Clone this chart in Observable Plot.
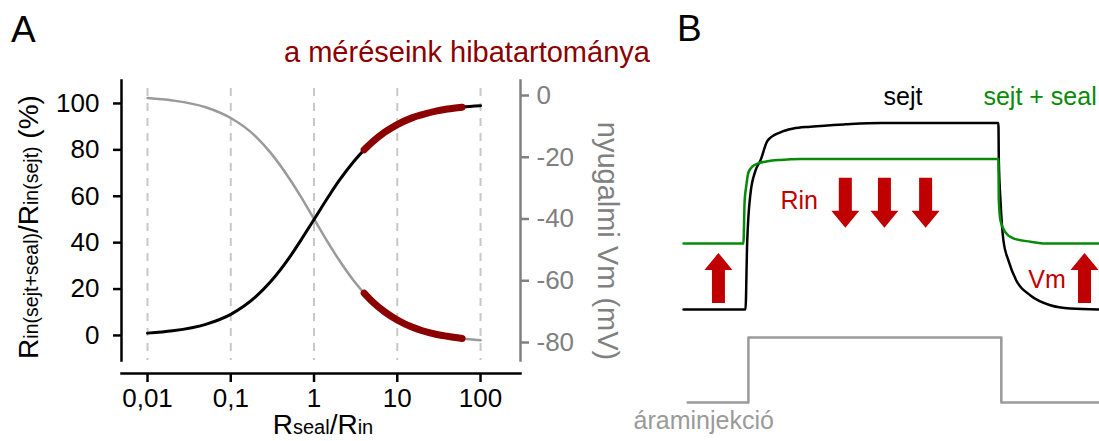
<!DOCTYPE html>
<html>
<head>
<meta charset="utf-8">
<script src="https://cdn.jsdelivr.net/npm/d3@7"></script>
<script src="https://cdn.jsdelivr.net/npm/@observablehq/plot@0.6"></script>
<style>
  body { margin: 0; background: #fff; font-family: "Liberation Sans", Arial, sans-serif; }
  #fig { position: relative; width: 1099px; height: 441px; overflow: hidden; background: #fff; }
  #fig svg { position: absolute; top: 0; }
</style>
</head>
<body>
<div id="fig"></div>
<script>
// ---- Panel A: Rin(cell+seal)/Rin(cell) and resting Vm against Rseal/Rin ----
const ratio      = [0.01, 0.02, 0.05, 0.1, 0.2, 0.3, 0.5, 0.7, 1, 1.5, 2, 3, 4, 5, 7, 10, 15, 20, 30, 40, 60, 100];
const rinPercent = [1.0, 2.0, 4.8, 9.1, 16.7, 23.1, 33.3, 41.2, 50, 60, 66.7, 75, 80, 83.3, 87.5, 90.9, 93.8, 95.2, 96.8, 97.6, 98.4, 99.0];
const restVm     = [-0.8, -1.6, -3.8, -7.3, -13.3, -18.5, -26.7, -32.9, -40, -48, -53.3, -60, -64, -66.7, -70, -72.7, -75, -76.2, -77.4, -78, -78.7, -79.3];
const errorRange = [4, 60];           // Rseal/Rin range of our recordings
const xTicks      = [0.01, 0.1, 1, 10, 100];
const xTickLabels = ["0,01", "0,1", "1", "10", "100"];
const pctTicks    = [0, 20, 40, 60, 80, 100];
const vmTicks     = [0, -20, -40, -60, -80];

// ---- Panel B: schematic responses to a current step (ms, mV) ----
const cellT = [0, 14.9, 15.3, 16.1, 17.3, 18.5, 20.2, 23.3, 26.4, 30.5, 38.9, 47.4, 75.7, 75.8, 76.2, 76.9, 78.1, 80.0, 83.4, 88.2, 93.0, 100];
const cellV = [-70, -70, -55.9, -45.2, -40.3, -38.1, -33.9, -32.1, -31.3, -30.9, -30.4, -30.1, -30.1, -38.1, -46.7, -55.2, -59.5, -63.8, -67.0, -69.1, -69.8, -70];
const sealT = [0, 14.4, 14.7, 15.1, 15.6, 16.6, 17.8, 20.2, 23.3, 28.1, 75.7, 75.8, 76.2, 77.4, 79.3, 83.4, 87.0, 100];
const sealV = [-55.9, -55.9, -46.7, -43.5, -40.7, -39.4, -38.8, -38.3, -38.0, -37.8, -37.8, -46.7, -51.0, -53.5, -54.8, -55.5, -55.9, -55.9];
const stepT = [1, 15.6, 15.6, 76.4, 76.4, 100];
const stepI = [0, 0, 1, 1, 0, 0];
const rinArrowT = [38.9, 48.3, 58.2];
const vmArrowT  = [8.4, 96.4];

const FONT = "Liberation Sans, Arial, sans-serif";
const DARK_RED = "#8b0000";
const RED = "#c00000";
const GREEN = "#078a07";
const AXIS_GRAY = "#808080";
const CURVE_GRAY = "#9a9a9a";

const fig = document.getElementById("fig");
const rows = ratio.map((r, i) => ({r, pct: rinPercent[i], vm: restVm[i]}));
const inError = d => d.r >= errorRange[0] && d.r <= errorRange[1];

const frameA = {
  width: 660, height: 441,
  marginLeft: 121, marginRight: 140, marginTop: 80, marginBottom: 68,
  style: {background: "transparent", fontFamily: FONT, overflow: "visible"}
};
const xLog = {type: "log", domain: [0.00487, 302]};

// Resting potential (right axis) — drawn underneath
const vmPlot = Plot.plot({
  ...frameA,
  x: {...xLog, axis: null},
  y: {domain: [-85.83, 4.86], insetBottom: 13, axis: null},
  marks: [
    Plot.ruleX(xTicks, {stroke: "#c8c8c8", strokeWidth: 2, strokeDasharray: "8,7", insetTop: 8, insetBottom: 13}),
    Plot.frame({anchor: "right", insetBottom: 13, stroke: AXIS_GRAY, strokeWidth: 2.5}),
    Plot.axisY({anchor: "right", ticks: vmTicks, tickFormat: d => String(d), tickSize: 8, tickPadding: 8,
                color: AXIS_GRAY, stroke: AXIS_GRAY, strokeWidth: 2.5, fontSize: 26, label: null}),
    Plot.line(rows, {x: "r", y: "vm", stroke: CURVE_GRAY, strokeWidth: 2.5, curve: "monotone-x"}),
    Plot.line(rows.filter(inError), {x: "r", y: "vm", stroke: DARK_RED, strokeWidth: 7, strokeLinecap: "round", curve: "monotone-x"})
  ]
});

// Input-resistance ratio (left axis) — drawn on top
const pctPlot = Plot.plot({
  ...frameA,
  x: {...xLog},
  y: {domain: [-10.8, 109.9], insetBottom: 13},
  marks: [
    Plot.frame({anchor: "left", insetBottom: 13, strokeWidth: 2.5}),
    Plot.frame({anchor: "bottom", strokeWidth: 2.5}),
    Plot.axisY({ticks: pctTicks, tickSize: 8, tickPadding: 14, strokeWidth: 2.5, fontSize: 26, label: null}),
    Plot.axisX({ticks: xTicks, tickFormat: d => xTickLabels[xTicks.indexOf(d)], tickSize: 9, tickPadding: 6,
                strokeWidth: 2.5, fontSize: 26, label: null}),
    Plot.line(rows, {x: "r", y: "pct", stroke: "black", strokeWidth: 3, curve: "monotone-x"}),
    Plot.line(rows.filter(inError), {x: "r", y: "pct", stroke: DARK_RED, strokeWidth: 7, strokeLinecap: "round", curve: "monotone-x"})
  ]
});

// Filled block arrow, drawn pointing up from the anchor
const blockArrow = {
  draw(context, l) {
    const sw = 6.5, hw = 14, hl = 17;
    context.moveTo(-sw, 0);
    context.lineTo(-sw, -(l - hl));
    context.lineTo(-hw, -(l - hl));
    context.lineTo(0, -l);
    context.lineTo(hw, -(l - hl));
    context.lineTo(sw, -(l - hl));
    context.lineTo(sw, 0);
    context.closePath();
  }
};

const frameB = {
  width: 499, height: 441, margin: 0,
  style: {background: "transparent", fontFamily: FONT, overflow: "visible"}
};
const xTime = {domain: [0, 100], range: [83, 499], axis: null};

const tracePlot = Plot.plot({
  ...frameB,
  x: xTime,
  y: {domain: [-70, -30], range: [309, 122], axis: null},
  marks: [
    Plot.line(cellT, {x: cellT, y: cellV, stroke: "black", strokeWidth: 2.5, curve: "monotone-x"}),
    Plot.line(sealT, {x: sealT, y: sealV, stroke: GREEN, strokeWidth: 2.5, curve: "monotone-x"}),
    Plot.vector(rinArrowT, {x: d => d, y: -41.8, length: 50, rotate: 180, anchor: "start", shape: blockArrow,
                            fill: RED, stroke: "none"}),
    Plot.vector(vmArrowT, {x: d => d, y: -68.6, length: 50, rotate: 0, anchor: "start", shape: blockArrow,
                           fill: RED, stroke: "none"}),
    Plot.text(["sejt"], {x: 48.1, y: -26.15, text: d => d, textAnchor: "start", lineAnchor: "bottom", fontSize: 25, fill: "black"}),
    Plot.text(["sejt + seal"], {x: 72.1, y: -26.15, text: d => d, textAnchor: "start", lineAnchor: "bottom", fontSize: 25, fill: GREEN}),
    Plot.text(["Rin"], {x: 23.3, y: -48.4, text: d => d, textAnchor: "start", lineAnchor: "bottom", fontSize: 25, fill: RED}),
    Plot.text(["Vm"], {x: 82.9, y: -65.5, text: d => d, textAnchor: "start", lineAnchor: "bottom", fontSize: 25, fill: RED})
  ]
});

const stepPlot = Plot.plot({
  ...frameB,
  x: xTime,
  y: {domain: [0, 1], range: [402, 337], axis: null},
  marks: [
    Plot.line(stepT, {x: stepT, y: stepI, stroke: CURVE_GRAY, strokeWidth: 2.5}),
    Plot.text(["áraminjekció"], {x: -12, y: -0.415, text: d => d, textAnchor: "start", lineAnchor: "bottom", fontSize: 25, fill: CURVE_GRAY})
  ]
});

for (const [svg, left] of [[vmPlot, 0], [pctPlot, 0], [tracePlot, 600], [stepPlot, 600]]) {
  svg.style.left = left + "px";
  svg.style.maxWidth = "none";
  fig.appendChild(svg);
}

// Panel letters, heading and axis titles
const ann = d3.select(fig).append("svg")
  .attr("width", 1099).attr("height", 441)
  .style("left", "0px").style("pointer-events", "none")
  .attr("font-family", FONT);

ann.append("text").attr("x", 11).attr("y", 42).attr("font-size", 37).text("A");
ann.append("text").attr("x", 677).attr("y", 41).attr("font-size", 37).text("B");
ann.append("text").attr("x", 284).attr("y", 62).attr("font-size", 29).attr("fill", DARK_RED)
  .text("a méréseink hibatartománya");

const yLabel = ann.append("text").attr("transform", "translate(38,227) rotate(-90)")
  .attr("text-anchor", "middle").attr("font-size", 28);
yLabel.append("tspan").text("R");
yLabel.append("tspan").attr("font-size", 19.5).text("in(sejt+seal)");
yLabel.append("tspan").text("/R");
yLabel.append("tspan").attr("font-size", 19.5).text("in(sejt)");
yLabel.append("tspan").text(" (%)");

const xLabel = ann.append("text").attr("x", 323).attr("y", 434)
  .attr("text-anchor", "middle").attr("font-size", 28);
xLabel.append("tspan").text("R");
xLabel.append("tspan").attr("font-size", 20).text("seal");
xLabel.append("tspan").text("/R");
xLabel.append("tspan").attr("font-size", 20).text("in");

ann.append("text").attr("transform", "translate(598,241) rotate(90)")
  .attr("text-anchor", "middle").attr("font-size", 29).attr("fill", AXIS_GRAY)
  .text("nyugalmi Vm (mV)");
</script>
</body>
</html>
